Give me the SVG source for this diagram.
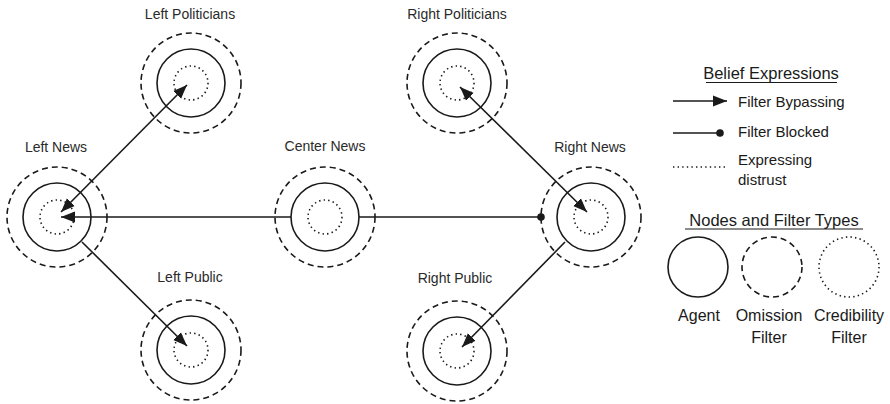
<svg xmlns="http://www.w3.org/2000/svg" width="890" height="404" viewBox="0 0 890 404">
  <defs>
    <style>
      .agent { fill: none; stroke: #1a1a1a; stroke-width: 1.6; }
      .omit { fill: none; stroke: #1a1a1a; stroke-width: 1.6; stroke-dasharray: 6 4; }
      .cred { fill: none; stroke: #1a1a1a; stroke-width: 1.6; stroke-dasharray: 1.4 3.2; }
      .edge { fill: none; stroke: #1a1a1a; stroke-width: 1.6; }
      .lbl { font-family: "Liberation Sans", Arial, sans-serif; font-size: 14px; fill: #2a2a2a; text-anchor: middle; }
      .head { font-family: "Liberation Sans", Arial, sans-serif; font-size: 16.5px; fill: #1a1a1a; text-anchor: middle; }
      .item { font-family: "Liberation Sans", Arial, sans-serif; font-size: 15px; fill: #1a1a1a; }
      .key { font-family: "Liberation Sans", Arial, sans-serif; font-size: 16px; fill: #1a1a1a; text-anchor: middle; }
    </style>
    <marker id="arrow" markerUnits="userSpaceOnUse" markerWidth="16" markerHeight="14" refX="14" refY="7" orient="auto-start-reverse">
      <path d="M0,1.5 L14,7 L0,12.5 Z" fill="#1a1a1a"/>
    </marker>
    <marker id="dot" markerUnits="userSpaceOnUse" markerWidth="10" markerHeight="10" refX="5" refY="5" orient="auto">
      <circle cx="5" cy="5" r="3.8" fill="#1a1a1a"/>
    </marker>
    <g id="node">
      <circle class="omit" r="50"/>
      <circle class="agent" r="34"/>
      <circle class="cred" r="17"/>
    </g>
  </defs>

  <rect width="890" height="404" fill="#ffffff"/>

  <!-- agents with their omission and credibility filters -->
  <g id="left-politicians">
    <use href="#node" x="191" y="83"/>
    <text class="lbl" x="190" y="19">Left Politicians</text>
  </g>
  <g id="right-politicians">
    <use href="#node" x="457" y="83"/>
    <text class="lbl" x="457" y="19">Right Politicians</text>
  </g>
  <g id="left-news">
    <use href="#node" x="57" y="217"/>
    <text class="lbl" x="56" y="152">Left News</text>
  </g>
  <g id="center-news">
    <use href="#node" x="325" y="217"/>
    <text class="lbl" x="325" y="151">Center News</text>
  </g>
  <g id="right-news">
    <use href="#node" x="591" y="217"/>
    <text class="lbl" x="590" y="152">Right News</text>
  </g>
  <g id="left-public">
    <use href="#node" x="191" y="350"/>
    <text class="lbl" x="190" y="282">Left Public</text>
  </g>
  <g id="right-public">
    <use href="#node" x="457" y="351"/>
    <text class="lbl" x="455" y="283">Right Public</text>
  </g>

  <!-- belief expressions between agents -->
  <g id="connectors">
    <line class="edge" x1="61" y1="212" x2="187" y2="85" marker-start="url(#arrow)" marker-end="url(#arrow)"/>
    <line class="edge" x1="460" y1="87" x2="587" y2="212" marker-start="url(#arrow)" marker-end="url(#arrow)"/>
    <line class="edge" x1="82" y1="242" x2="187" y2="346" marker-end="url(#arrow)"/>
    <line class="edge" x1="565" y1="242" x2="462" y2="347" marker-end="url(#arrow)"/>
    <line class="edge" x1="291" y1="217" x2="61" y2="217" marker-end="url(#arrow)"/>
    <line class="edge" x1="359" y1="217" x2="541" y2="217" marker-end="url(#dot)"/>
  </g>

  <!-- legend: belief expressions -->
  <g id="legend-expressions">
    <text class="head" x="771" y="79">Belief Expressions</text>
    <line x1="706" y1="82.5" x2="837" y2="82.5" stroke="#1a1a1a" stroke-width="1.2"/>
    <line class="edge" x1="673" y1="101" x2="727" y2="101" marker-end="url(#arrow)"/>
    <text class="item" x="738" y="107">Filter Bypassing</text>
    <line class="edge" x1="673" y1="133" x2="720" y2="133" marker-end="url(#dot)"/>
    <text class="item" x="738" y="137">Filter Blocked</text>
    <line class="cred" x1="673" y1="167" x2="728" y2="167"/>
    <text class="item" x="738" y="165">Expressing</text>
    <text class="item" x="738" y="185">distrust</text>
  </g>

  <!-- legend: node and filter types -->
  <g id="legend-types">
    <text class="head" x="774" y="226">Nodes and Filter Types</text>
    <line x1="685" y1="229" x2="863" y2="229" stroke="#1a1a1a" stroke-width="1.2"/>
    <circle class="agent" cx="698" cy="267" r="30"/>
    <circle class="omit" cx="772" cy="267" r="30"/>
    <circle class="cred" cx="849" cy="267" r="30"/>
    <text class="key" x="699" y="321">Agent</text>
    <text class="key" x="769" y="321">Omission</text>
    <text class="key" x="769" y="343">Filter</text>
    <text class="key" x="849" y="321">Credibility</text>
    <text class="key" x="849" y="343">Filter</text>
  </g>
</svg>
